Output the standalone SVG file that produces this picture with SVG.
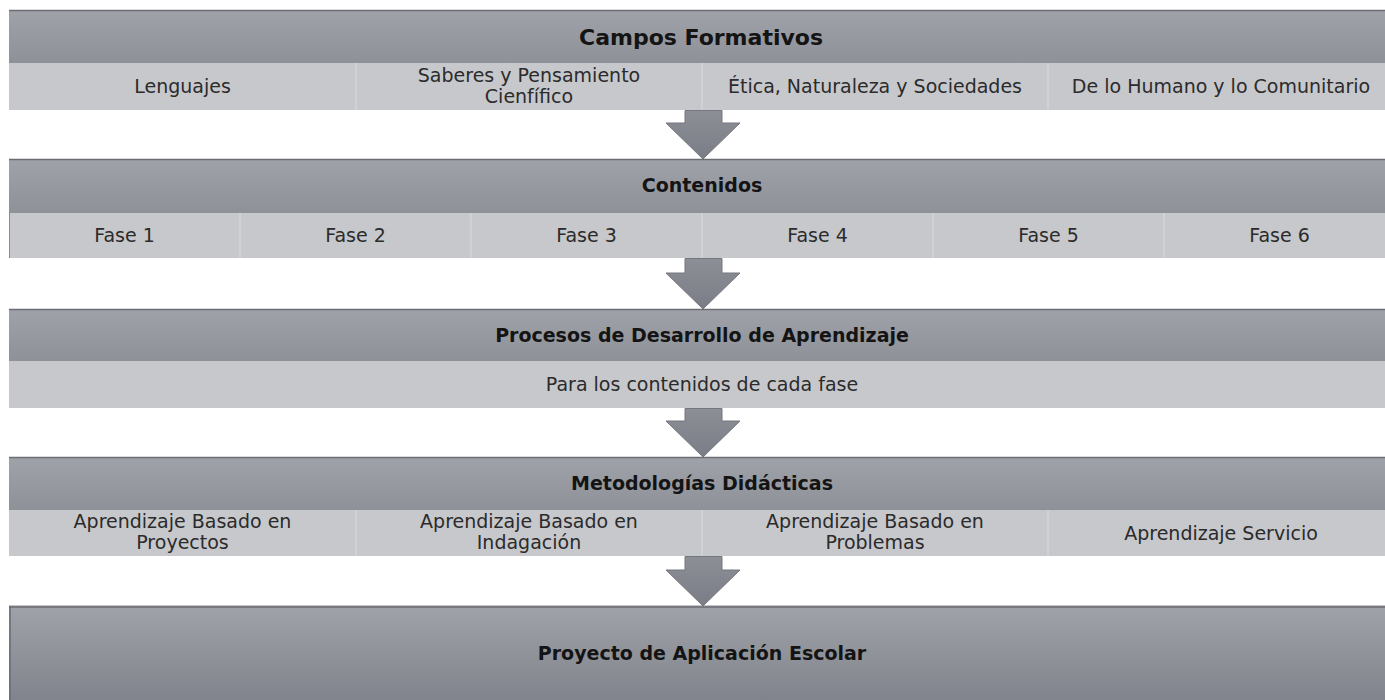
<svg xmlns="http://www.w3.org/2000/svg" width="1385" height="700" viewBox="0 0 1385 700">
<defs>
<linearGradient id="hg" x1="0" y1="0" x2="0" y2="1">
<stop offset="0" stop-color="#a0a2a9"/>
<stop offset="1" stop-color="#8e9198"/>
</linearGradient>
<linearGradient id="bg" x1="0" y1="0" x2="0" y2="1">
<stop offset="0" stop-color="#a0a2a9"/>
<stop offset="1" stop-color="#7f828a"/>
</linearGradient>
<linearGradient id="ag" x1="0" y1="0" x2="0" y2="1">
<stop offset="0" stop-color="#8c8f96"/>
<stop offset="1" stop-color="#7a7d85"/>
</linearGradient>
</defs>
<style>
.hdr{fill:url(#hg)}
.topline{stroke:#6b6d73;stroke-width:1.5}
.sub{fill:#c7c8cb}
.div{stroke:#d3d4d7;stroke-width:1.5}
.ht{font-family:"DejaVu Sans",Verdana,sans-serif;font-weight:bold;font-size:19px;fill:#141414;text-anchor:middle}
.t{font-family:"DejaVu Sans",Verdana,sans-serif;font-size:19px;fill:#2b2b2b;text-anchor:middle}
.arrow{fill:url(#ag);stroke:#74777e;stroke-width:1}
</style>
<rect width="1385" height="700" fill="#ffffff"/>

<g id="campos-formativos">
<rect class="hdr" x="9" y="10" width="1386" height="53"/>
<line class="topline" x1="9" y1="10.5" x2="1395" y2="10.5"/>
<text class="ht" x="701" y="45" style="font-size:22px">Campos Formativos</text>
<rect class="sub" x="9" y="63" width="1386" height="47"/>
<line class="div" x1="356" y1="63" x2="356" y2="110"/>
<line class="div" x1="702" y1="63" x2="702" y2="110"/>
<line class="div" x1="1048" y1="63" x2="1048" y2="110"/>
<text class="t" x="182.5" y="93">Lenguajes</text>
<text class="t" x="529" y="82">Saberes y Pensamiento</text>
<text class="t" x="529" y="103">Cienfífico</text>
<text class="t" x="875" y="93">Ética, Naturaleza y Sociedades</text>
<text class="t" x="1221" y="93">De lo Humano y lo Comunitario</text>
</g>

<g id="contenidos">
<rect class="hdr" x="9" y="159" width="1386" height="54"/>
<line class="topline" x1="9" y1="159.5" x2="1395" y2="159.5"/>
<text class="ht" x="702" y="192">Contenidos</text>
<rect class="sub" x="9" y="213" width="1386" height="45"/>
<line x1="9.5" y1="213" x2="9.5" y2="258" stroke="#8a8c92" stroke-width="1"/>
<line class="div" x1="240" y1="213" x2="240" y2="258"/>
<line class="div" x1="471" y1="213" x2="471" y2="258"/>
<line class="div" x1="702" y1="213" x2="702" y2="258"/>
<line class="div" x1="933" y1="213" x2="933" y2="258"/>
<line class="div" x1="1164" y1="213" x2="1164" y2="258"/>
<text class="t" x="124.5" y="242">Fase 1</text>
<text class="t" x="355.5" y="242">Fase 2</text>
<text class="t" x="586.5" y="242">Fase 3</text>
<text class="t" x="817.5" y="242">Fase 4</text>
<text class="t" x="1048.5" y="242">Fase 5</text>
<text class="t" x="1279.5" y="242">Fase 6</text>
</g>

<g id="procesos">
<rect class="hdr" x="9" y="309" width="1386" height="52"/>
<line class="topline" x1="9" y1="309.5" x2="1395" y2="309.5"/>
<text class="ht" x="702" y="342">Procesos de Desarrollo de Aprendizaje</text>
<rect class="sub" x="9" y="361" width="1386" height="47"/>
<text class="t" x="702" y="391">Para los contenidos de cada fase</text>
</g>

<g id="metodologias">
<rect class="hdr" x="9" y="457" width="1386" height="53"/>
<line class="topline" x1="9" y1="457.5" x2="1395" y2="457.5"/>
<text class="ht" x="702" y="490">Metodologías Didácticas</text>
<rect class="sub" x="9" y="510" width="1386" height="46"/>
<line class="div" x1="356" y1="510" x2="356" y2="556"/>
<line class="div" x1="702" y1="510" x2="702" y2="556"/>
<line class="div" x1="1048" y1="510" x2="1048" y2="556"/>
<text class="t" x="182.5" y="528">Aprendizaje Basado en</text>
<text class="t" x="182.5" y="549">Proyectos</text>
<text class="t" x="529" y="528">Aprendizaje Basado en</text>
<text class="t" x="529" y="549">Indagación</text>
<text class="t" x="875" y="528">Aprendizaje Basado en</text>
<text class="t" x="875" y="549">Problemas</text>
<text class="t" x="1221" y="540">Aprendizaje Servicio</text>
</g>

<g id="proyecto">
<rect x="9" y="606" width="1386" height="100" fill="url(#bg)"/>
<line x1="9" y1="605.5" x2="1395" y2="605.5" stroke="#c4c5c8" stroke-width="1"/>
<line class="topline" x1="9" y1="607" x2="1395" y2="607"/>
<line x1="10" y1="606" x2="10" y2="700" stroke="#6b6d73" stroke-width="1.5"/>
<text class="ht" x="702" y="660">Proyecto de Aplicación Escolar</text>
</g>

<g id="connectors">
<path class="arrow" d="M685,110.5 L722,110.5 L722,123 L740,123 L703,159 L666,123 L685,123 Z"/>
<path class="arrow" d="M685,258.5 L722,258.5 L722,273 L740,273 L703,309 L666,273 L685,273 Z"/>
<path class="arrow" d="M685,408.5 L722,408.5 L722,421 L740,421 L703,457 L666,421 L685,421 Z"/>
<path class="arrow" d="M685,556.5 L722,556.5 L722,570 L740,570 L703,606 L666,570 L685,570 Z"/>
</g>
</svg>
